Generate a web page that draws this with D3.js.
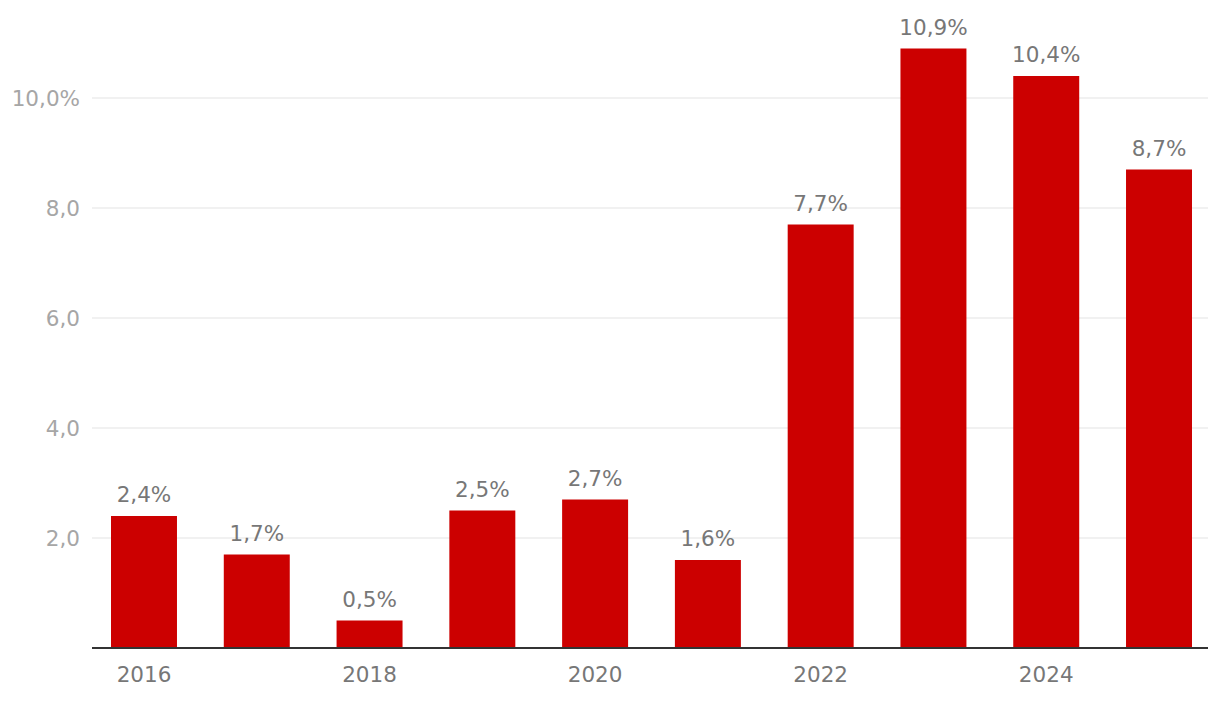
<!DOCTYPE html>
<html>
    <head>
        <style>
            body { margin: 0; background: white; }
            .grid line { stroke: #e3e3e3; stroke-width: 1; }
            .bar { fill: #cc0000; }
            .val { fill: #777777; font-family: "DejaVu Sans", sans-serif; font-size: 21.5px; }
            .ytick { fill: #a6a6a6; font-family: "DejaVu Sans", sans-serif; font-size: 21.5px; }
            .xtick { fill: #777777; font-family: "DejaVu Sans", sans-serif; font-size: 21.5px; }
        </style>
    </head>
    <body>
        <div id="chart"></div>
        <script src="https://cdn.jsdelivr.net/npm/d3@7"></script>
        <script>

//////////////////// donnees ////////////////////
let annees = ['2016', '2017', '2018', '2019', '2020', '2021', '2022', '2023', '2024', '2025'];
let valeurs = [2.4, 1.7, 0.5, 2.5, 2.7, 1.6, 7.7, 10.9, 10.4, 8.7];
let y_ticks = [2, 4, 6, 8, 10];
let x_ticks = ['2016', '2018', '2020', '2022', '2024'];

//////////////////// dimensions ////////////////////
let W = 1220;
let H = 702;
let base_y = 648;
let grid_x0 = 92;
let grid_x1 = 1208;

let svg = d3.select('#chart').append('svg')
    .attr('width', W)
    .attr('height', H);

let x = d3.scaleBand()
    .domain(annees)
    .range([87.6, 1215.4])
    .paddingInner(0.415)
    .paddingOuter(0.2075);

let y = d3.scaleLinear()
    .domain([0, 10])
    .range([base_y, 98]);

let fmt = (v) => d3.format('.1f')(v).replace('.', ',');

// grille + etiquettes y (alignees a droite)
let grid = svg.append('g').classed('grid', true);
y_ticks.forEach((t) => {
    grid.append('line')
        .attr('x1', grid_x0).attr('x2', grid_x1)
        .attr('y1', y(t)).attr('y2', y(t));
    svg.append('text')
        .classed('ytick', true)
        .attr('x', 80)
        .attr('y', y(t) + 8)
        .attr('text-anchor', 'end')
        .text(fmt(t) + (t == 10 ? '%' : ''));
});

// barres
svg.selectAll('.bar').data(valeurs).enter().append('rect')
    .classed('bar', true)
    .attr('x', (d, i) => x(annees[i]))
    .attr('y', (d) => y(d))
    .attr('width', x.bandwidth())
    .attr('height', (d) => base_y - y(d));

svg.selectAll('.val').data(valeurs).enter().append('text')
    .classed('val', true)
    .attr('x', (d, i) => x(annees[i]) + x.bandwidth() / 2)
    .attr('y', (d) => y(d) - 14)
    .attr('text-anchor', 'middle')
    .text((d) => fmt(d) + '%');

// axe x
svg.append('line')
    .attr('x1', grid_x0).attr('x2', grid_x1)
    .attr('y1', base_y).attr('y2', base_y)
    .attr('stroke', '#333333')
    .attr('stroke-width', 2);

x_ticks.forEach((a) => {
    svg.append('text')
        .classed('xtick', true)
        .attr('x', x(a) + x.bandwidth() / 2)
        .attr('y', 682)
        .attr('text-anchor', 'middle')
        .text(a);
});

        </script>
    </body>
</html>
